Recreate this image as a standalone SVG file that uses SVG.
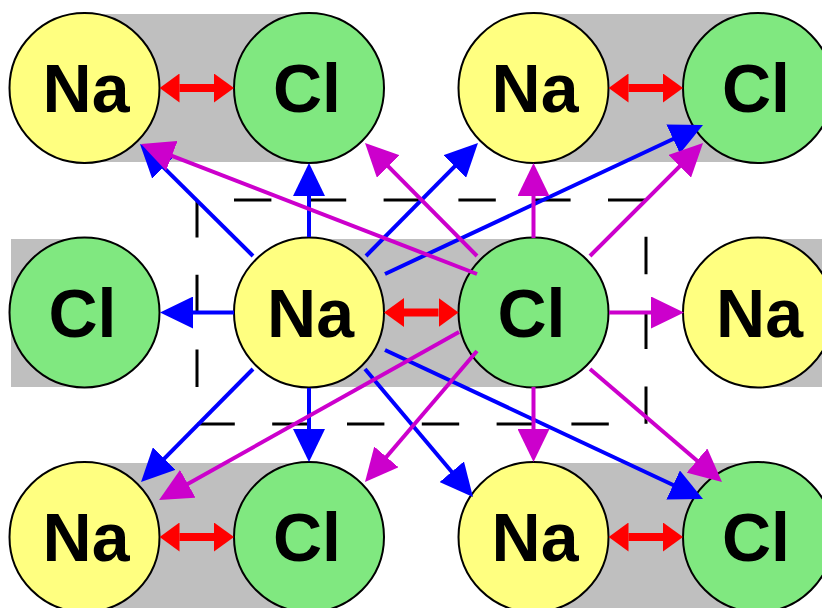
<svg xmlns="http://www.w3.org/2000/svg" width="822" height="608" viewBox="0 0 822 608">
<style>
.band{fill:#bfbfbf}
.cell{fill:none;stroke:#000;stroke-width:3;stroke-dasharray:37.4 37.4}
.na circle{fill:#ffff80;stroke:#000;stroke-width:2}
.cl circle{fill:#80e880;stroke:#000;stroke-width:2}
text{font-family:"Liberation Sans",Arial,sans-serif;font-weight:bold;font-size:68px;text-anchor:middle;fill:#000}
.bond{stroke:#ff0000;stroke-width:8;fill:none;marker-start:url(#ra);marker-end:url(#ra)}
.b{stroke:#0000ff;stroke-width:4;fill:none;marker-end:url(#ba)}
.m{stroke:#cc00cc;stroke-width:4;fill:none;marker-end:url(#ma)}
</style>
<defs>
<marker id="ra" markerUnits="userSpaceOnUse" markerWidth="20" markerHeight="29" refX="0" refY="14.5" orient="auto-start-reverse"><path d="M0,0 L20,14.5 L0,29 Z" fill="#ff0000"/></marker>
<marker id="ba" markerUnits="userSpaceOnUse" markerWidth="33" markerHeight="32" refX="13" refY="16" orient="auto"><path d="M0,0 L33,16 L0,32 Z" fill="#0000ff"/></marker>
<marker id="ma" markerUnits="userSpaceOnUse" markerWidth="33" markerHeight="32" refX="13" refY="16" orient="auto"><path d="M0,0 L33,16 L0,32 Z" fill="#cc00cc"/></marker>
</defs>
<g id="bands">
<rect class="band" x="84.5" y="14" width="224.5" height="148"/>
<rect class="band" x="533.5" y="14" width="224.5" height="148"/>
<rect class="band" x="11" y="239" width="73.5" height="148"/>
<rect class="band" x="309" y="239" width="224.5" height="148"/>
<rect class="band" x="758" y="239" width="64" height="148"/>
<rect class="band" x="84.5" y="463" width="224.5" height="148"/>
<rect class="band" x="533.5" y="463" width="224.5" height="148"/>
</g>
<path id="unit-cell" class="cell" d="M197,200 V424 H646 V200 Z"/>
<g id="na1" class="na"><circle cx="84.5" cy="88" r="75"/><text x="86" y="112">Na</text></g>
<g id="cl1" class="cl"><circle cx="309" cy="88" r="75"/><text x="307" y="112">Cl</text></g>
<g id="na2" class="na"><circle cx="533.5" cy="88" r="75"/><text x="535" y="112">Na</text></g>
<g id="cl2" class="cl"><circle cx="758" cy="88" r="75"/><text x="756" y="112">Cl</text></g>
<g id="cl3" class="cl"><circle cx="84.5" cy="312.5" r="75"/><text x="82.5" y="336.5">Cl</text></g>
<g id="na3" class="na"><circle cx="309" cy="312.5" r="75"/><text x="310.5" y="336.5">Na</text></g>
<g id="cl4" class="cl"><circle cx="533.5" cy="312.5" r="75"/><text x="531.5" y="336.5">Cl</text></g>
<g id="na4" class="na"><circle cx="758" cy="312.5" r="75"/><text x="759.5" y="336.5">Na</text></g>
<g id="na5" class="na"><circle cx="84.5" cy="537" r="75"/><text x="86" y="561">Na</text></g>
<g id="cl5" class="cl"><circle cx="309" cy="537" r="75"/><text x="307" y="561">Cl</text></g>
<g id="na6" class="na"><circle cx="533.5" cy="537" r="75"/><text x="535" y="561">Na</text></g>
<g id="cl6" class="cl"><circle cx="758" cy="537" r="75"/><text x="756" y="561">Cl</text></g>
<g id="connectors">
<line class="bond" x1="179.5" y1="88" x2="214" y2="88"/>
<line class="bond" x1="628.5" y1="88" x2="663" y2="88"/>
<line class="bond" x1="404" y1="312.5" x2="438.5" y2="312.5"/>
<line class="bond" x1="179.5" y1="537" x2="214" y2="537"/>
<line class="bond" x1="628.5" y1="537" x2="663" y2="537"/>
<line class="b" x1="253" y1="256" x2="154.2" y2="158.1"/>
<line class="b" x1="309" y1="237" x2="309" y2="183"/>
<line class="b" x1="366" y1="256" x2="463.9" y2="157.2"/>
<line class="b" x1="385" y1="274" x2="684.9" y2="133.5"/>
<line class="b" x1="234" y1="312.5" x2="180" y2="312.5"/>
<line class="b" x1="253" y1="369" x2="155.1" y2="467.8"/>
<line class="b" x1="309" y1="388" x2="309" y2="442"/>
<line class="b" x1="365" y1="369" x2="460.1" y2="481.7"/>
<line class="b" x1="385" y1="350" x2="684.9" y2="490.5"/>
<line class="m" x1="477" y1="274" x2="159.7" y2="151.2"/>
<line class="m" x1="477" y1="256" x2="379.1" y2="157.2"/>
<line class="m" x1="533.5" y1="238" x2="533.5" y2="183"/>
<line class="m" x1="590" y1="256" x2="688.9" y2="157.1"/>
<line class="m" x1="609" y1="312.5" x2="664" y2="312.5"/>
<line class="m" x1="459" y1="332" x2="176.5" y2="490.2"/>
<line class="m" x1="477" y1="351" x2="378" y2="466.8"/>
<line class="m" x1="533.5" y1="387" x2="533.5" y2="442"/>
<line class="m" x1="590" y1="369" x2="706.8" y2="469"/>
</g>
</svg>
